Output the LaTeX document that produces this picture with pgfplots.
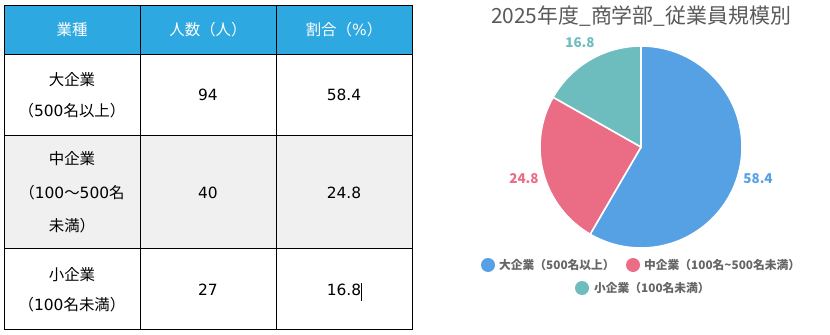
\documentclass[border=0pt]{standalone}
\usepackage{pgfplots}
\pgfplotsset{compat=1.18}
\usepackage{pgfplotstable}
\usepackage{fontspec}
\setmainfont{Noto Sans CJK JP}
\newfontfamily\dv{DejaVu Sans}

\definecolor{hdrblue}{RGB}{46,168,224}
\definecolor{rowgray}{RGB}{240,240,240}
\definecolor{cBlue}{RGB}{86,160,228}
\definecolor{cPink}{RGB}{234,108,133}
\definecolor{cTeal}{RGB}{109,189,191}
\definecolor{titlegray}{RGB}{89,89,89}
\definecolor{leggray}{RGB}{102,102,102}

% employee counts and shares by company size
\pgfplotstableread{
id count share
1  94    58.4
2  40    24.8
3  27    16.8
}\sizedata

\pgfplotstablegetelem{0}{count}\of\sizedata \let\cA\pgfplotsretval
\pgfplotstablegetelem{1}{count}\of\sizedata \let\cB\pgfplotsretval
\pgfplotstablegetelem{2}{count}\of\sizedata \let\cC\pgfplotsretval
\pgfplotstablegetelem{0}{share}\of\sizedata \let\sA\pgfplotsretval
\pgfplotstablegetelem{1}{share}\of\sizedata \let\sB\pgfplotsretval
\pgfplotstablegetelem{2}{share}\of\sizedata \let\sC\pgfplotsretval
% slice boundaries, clockwise from 12 o'clock
\pgfmathsetmacro\aA{90}
\pgfmathsetmacro\aB{\aA-3.6*\sA}
\pgfmathsetmacro\aC{\aB-3.6*\sB}
\pgfmathsetmacro\aD{\aC-3.6*\sC}
\pgfmathsetmacro\mA{(\aA+\aB)/2}
\pgfmathsetmacro\mB{(\aB+\aC)/2}
\pgfmathsetmacro\mC{(\aC+\aD)/2}

\newcommand{\cell}[3]{\node[anchor=base] at ({#1},{#2-5.6}) {#3};}

\begin{document}
\begin{tikzpicture}[x=1bp,y=1bp]
\path (0,0) rectangle (830,334);

% ---- table ----
\fill[hdrblue] (4,329) rectangle (412,280);
\fill[rowgray] (4,199) rectangle (412,86);
\draw[black, line width=0.9bp] (4,329) rectangle (412,4.5);
\foreach \yy in {280,199,86} \draw[black, line width=0.9bp] (4,\yy) -- (412,\yy);
\foreach \xx in {140,276} \draw[black, line width=0.9bp] (\xx,329) -- (\xx,4.5);

\begin{scope}[font=\fontsize{15.5}{18}\selectfont, text=white]
\cell{72}{304}{業種}
\cell{208}{304}{人数（人）}
\cell{344}{304}{割合（{\dv\%}）}
\end{scope}
\begin{scope}[font=\fontsize{15.5}{18}\selectfont, text=black]
\cell{72}{254}{大企業}
\cell{72}{223}{（{\dv 500}名以上）}
\cell{208}{239}{\dv\cA}
\cell{344}{239}{\dv\sA}
\cell{72}{175}{中企業}
\cell{72}{141}{（{\dv 100}～{\dv 500}名}
\cell{72}{108}{未満）}
\cell{208}{141}{\dv\cB}
\cell{344}{141}{\dv\sB}
\cell{72}{59}{小企業}
\cell{72}{29}{（{\dv 100}名未満）}
\cell{208}{44}{\dv\cC}
\cell{344}{44}{\dv\sC}
\end{scope}
\draw[black, line width=0.8bp] (361.8,33) -- (361.8,51);

% ---- title ----
\node[text=titlegray, font=\fontsize{21}{24}\selectfont, anchor=base] at (641,310.5) {2025年度\_商学部\_従業員規模別};

% ---- pie ----
\begin{axis}[at={(641bp,187bp)}, anchor=origin, x=101bp, y=101bp,
  hide axis, clip=false, xmin=-1.3, xmax=1.3, ymin=-1.3, ymax=1.3]
\addplot[draw=white, line width=1.6bp, fill=cBlue, domain=\aB:\aA, samples=120]
  ({cos(x)},{sin(x)}) -- (axis cs:0,0) -- cycle;
\addplot[draw=white, line width=1.6bp, fill=cPink, domain=\aC:\aB, samples=80]
  ({cos(x)},{sin(x)}) -- (axis cs:0,0) -- cycle;
\addplot[draw=white, line width=1.6bp, fill=cTeal, domain=\aD:\aC, samples=60]
  ({cos(x)},{sin(x)}) -- (axis cs:0,0) -- cycle;
\node[text=cBlue, font=\bfseries\fontsize{13.5}{15}\selectfont]
  at (axis cs:{1.2*cos(\mA)},{1.2*sin(\mA)}) {\sA};
\node[text=cPink, font=\bfseries\fontsize{13.5}{15}\selectfont]
  at (axis cs:{1.2*cos(\mB)},{1.2*sin(\mB)}) {\sB};
\node[text=cTeal, font=\bfseries\fontsize{13.5}{15}\selectfont]
  at (axis cs:{1.2*cos(\mC)},{1.2*sin(\mC)}) {\sC};
\end{axis}

% ---- legend ----
\begin{scope}[font=\bfseries\fontsize{11.8}{13}\selectfont, text=leggray]
\fill[cBlue] (488,69) circle (7);
\node[anchor=base west, inner sep=0] at (499,65) {大企業（500名以上）};
\fill[cPink] (633,69) circle (7);
\node[anchor=base west, inner sep=0] at (644,65) {中企業（100名\textasciitilde 500名未満）};
\fill[cTeal] (582,46) circle (7);
\node[anchor=base west, inner sep=0] at (594,42) {小企業（100名未満）};
\end{scope}
\end{tikzpicture}
\end{document}
